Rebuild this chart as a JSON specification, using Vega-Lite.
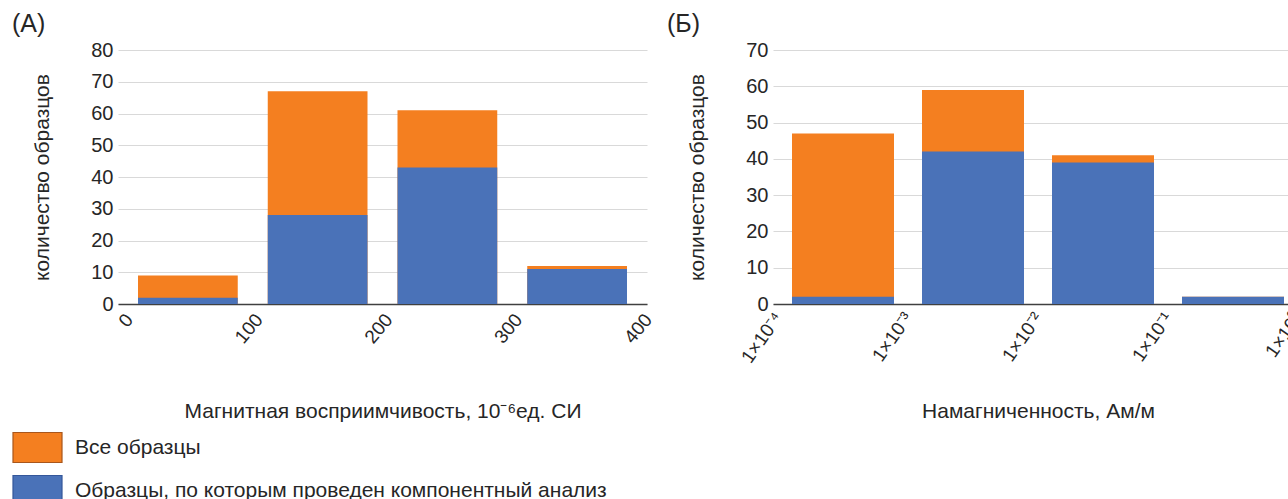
{
  "$schema": "https://vega.github.io/schema/vega-lite/v6.json",
  "autosize": {"type": "none"},
  "padding": {"left": 118, "top": 50, "right": 1170, "bottom": 449},
  "bounds": "flush",
  "spacing": 126,
  "background": "white",
  "datasets": {
    "a": [
      {"lo": 0, "hi": 100, "series": "Все образцы", "n": 9},
      {"lo": 100, "hi": 200, "series": "Все образцы", "n": 67},
      {"lo": 200, "hi": 300, "series": "Все образцы", "n": 61},
      {"lo": 300, "hi": 400, "series": "Все образцы", "n": 12},
      {"lo": 0, "hi": 100, "series": "Образцы, по которым проведен компонентный анализ", "n": 2},
      {"lo": 100, "hi": 200, "series": "Образцы, по которым проведен компонентный анализ", "n": 28},
      {"lo": 200, "hi": 300, "series": "Образцы, по которым проведен компонентный анализ", "n": 43},
      {"lo": 300, "hi": 400, "series": "Образцы, по которым проведен компонентный анализ", "n": 11}
    ],
    "b": [
      {"lo": 0.0001, "hi": 0.001, "series": "Все образцы", "n": 47},
      {"lo": 0.001, "hi": 0.01, "series": "Все образцы", "n": 59},
      {"lo": 0.01, "hi": 0.1, "series": "Все образцы", "n": 41},
      {"lo": 0.1, "hi": 1, "series": "Все образцы", "n": 2},
      {"lo": 0.0001, "hi": 0.001, "series": "Образцы, по которым проведен компонентный анализ", "n": 2},
      {"lo": 0.001, "hi": 0.01, "series": "Образцы, по которым проведен компонентный анализ", "n": 42},
      {"lo": 0.01, "hi": 0.1, "series": "Образцы, по которым проведен компонентный анализ", "n": 39},
      {"lo": 0.1, "hi": 1, "series": "Образцы, по которым проведен компонентный анализ", "n": 2}
    ]
  },
  "hconcat": [
    {
      "width": 529,
      "height": 254,
      "data": {"name": "a"},
      "title": {"text": "(А)", "anchor": "start", "frame": "group", "dx": -106, "dy": 32, "fontSize": 25, "fontWeight": "normal", "baseline": "bottom", "offset": 10, "color": "#262626"},
      "mark": {"type": "bar", "orient": "vertical", "xOffset": 15, "x2Offset": -15},
      "encoding": {
        "x": {
          "field": "lo", "type": "quantitative",
          "scale": {"domain": [0, 400], "nice": false, "zero": false},
          "axis": {"values": [0, 100, 200, 300, 400], "title": "Магнитная восприимчивость, 10⁻⁶ед. СИ", "labelAngle": -50, "labelAlign": "right", "labelBaseline": "middle", "labelPadding": 12, "labelOffset": 6, "titleY": 113, "titleBaseline": "alphabetic"}
        },
        "x2": {"field": "hi"},
        "y": {
          "field": "n", "type": "quantitative", "stack": null,
          "scale": {"domain": [0, 80], "nice": false},
          "axis": {"values": [0, 10, 20, 30, 40, 50, 60, 70, 80], "title": "количество образцов", "titleX": -70, "titleY": 127, "titleBaseline": "alphabetic"}
        },
        "y2": {"datum": 0},
        "color": {
          "field": "series", "type": "nominal",
          "scale": {"domain": ["Все образцы", "Образцы, по которым проведен компонентный анализ"], "range": ["#F47F20", "#4A72B8"]},
          "legend": {
            "orient": "none", "legendX": -106, "legendY": 372, "direction": "vertical", "title": null,
            "symbolType": "M-1,-0.612H1V0.612H-1Z", "symbolSize": 2401, "symbolStrokeWidth": 1.2,
            "labelFontSize": 21, "labelOffset": 12, "rowPadding": -9, "labelColor": "#262626", "labelLimit": 900,
            "encode": {"symbols": {"update": {"stroke": {"signal": "datum.value === 'Все образцы' ? '#A8561C' : '#34579A'"}}}}
          }
        }
      }
    },
    {
      "width": 530,
      "height": 254,
      "data": {"name": "b"},
      "title": {"text": "(Б)", "anchor": "start", "frame": "group", "dx": -106, "dy": 32, "fontSize": 25, "fontWeight": "normal", "baseline": "bottom", "offset": 10, "color": "#262626"},
      "mark": {"type": "bar", "orient": "vertical", "xOffset": 14, "x2Offset": -14},
      "encoding": {
        "x": {
          "field": "lo", "type": "quantitative",
          "scale": {"type": "log", "domain": [0.0001, 1], "nice": false},
          "axis": {"values": [0.0001, 0.001, 0.01, 0.1, 1], "title": "Намагниченность, Ам/м",
            "labelExpr": "datum.value < 0.0005 ? '1×10⁻⁴' : datum.value < 0.005 ? '1×10⁻³' : datum.value < 0.05 ? '1×10⁻²' : datum.value < 0.5 ? '1×10⁻¹' : '1×10⁰'",
            "labelAngle": -55, "labelAlign": "right", "labelBaseline": "middle", "labelPadding": 10, "labelOffset": 0, "titleY": 113, "titleBaseline": "alphabetic"}
        },
        "x2": {"field": "hi"},
        "y": {
          "field": "n", "type": "quantitative", "stack": null,
          "scale": {"domain": [0, 70], "nice": false},
          "axis": {"values": [0, 10, 20, 30, 40, 50, 60, 70], "title": "количество образцов", "titleX": -70, "titleY": 127, "titleBaseline": "alphabetic"}
        },
        "y2": {"datum": 0},
        "color": {"field": "series", "type": "nominal"}
      }
    }
  ],
  "config": {
    "font": "Liberation Sans",
    "view": {"stroke": null},
    "axisX": {"grid": false, "ticks": false, "domainColor": "#404040", "domainWidth": 1.5, "labelFontSize": 19, "labelColor": "#262626", "titleFontSize": 21, "titleFontWeight": "normal", "titleColor": "#262626", "labelFlush": false, "labelOverlap": false},
    "axisY": {"grid": true, "gridColor": "#D9D9D9", "gridWidth": 1, "domain": false, "ticks": false, "labelFontSize": 20, "labelColor": "#262626", "labelPadding": 5, "titleFontSize": 21, "titleFontWeight": "normal", "titleColor": "#262626"}
  }
}
